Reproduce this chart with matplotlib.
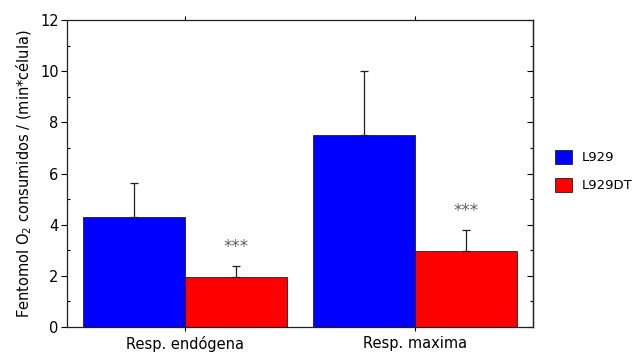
import numpy as np
import matplotlib.pyplot as plt
from matplotlib.ticker import MultipleLocator

# Oxygen consumption per cell line
categories = ["Resp. endógena", "Resp. maxima"]
series = ["L929", "L929DT"]
l929_mean = [4.3, 7.5]
l929_err = [1.32, 2.5]
l929dt_mean = [1.95, 2.97]
l929dt_err = [0.43, 0.82]
significance = ["***", "***"]

colors = ["#0000ff", "#ff0000"]

fig = plt.figure(figsize=(6.44, 3.56), dpi=100)
ax = fig.add_axes([67 / 644, 29 / 356, 466 / 644, 307 / 356])

x = np.arange(len(categories))
w = 0.443

ax.bar(x - w / 2, l929_mean, w, color=colors[0], edgecolor="#202020",
       linewidth=0.6, label=series[0])
ax.bar(x + w / 2, l929dt_mean, w, color=colors[1], edgecolor="#202020",
       linewidth=0.6, label=series[1])

# upper half error bars only
ax.errorbar(x - w / 2, l929_mean, yerr=[np.zeros(2), l929_err], fmt="none",
            ecolor="#202020", elinewidth=0.9, capsize=3, capthick=0.9)
ax.errorbar(x + w / 2, l929dt_mean, yerr=[np.zeros(2), l929dt_err], fmt="none",
            ecolor="#202020", elinewidth=0.9, capsize=3, capthick=0.9)

for xi, m, e, s in zip(x, l929dt_mean, l929dt_err, significance):
    ax.text(xi + w / 2, m + e + 0.75, s, ha="center", va="center",
            fontsize=12, color="#606060")

ax.set_xlim(-0.513, 1.513)
ax.set_ylim(0, 12)
ax.set_xticks(x)
ax.set_xticklabels(categories, fontsize=10.5)
ax.yaxis.set_major_locator(MultipleLocator(2))
ax.yaxis.set_minor_locator(MultipleLocator(1))
ax.tick_params(axis="y", which="major", direction="out", length=4, width=0.8,
               labelsize=10.5, pad=2)
ax.tick_params(axis="y", which="minor", direction="in", length=2, width=0.8)
ax.tick_params(axis="x", direction="out", top=True, length=3, width=0.8)
for sp in ax.spines.values():
    sp.set_linewidth(0.9)
    sp.set_color("#202020")

# right side: inward ticks, no labels
right = ax.secondary_yaxis("right")
right.yaxis.set_major_locator(MultipleLocator(2))
right.yaxis.set_minor_locator(MultipleLocator(1))
right.tick_params(which="major", direction="in", length=4, width=0.8,
                  labelright=False)
right.tick_params(which="minor", direction="in", length=2, width=0.8)
right.spines["right"].set_linewidth(0.9)
right.spines["right"].set_color("#202020")

ax.set_ylabel("Fentomol O$_2$ consumidos / (min*célula)", fontsize=10.5,
              labelpad=4)

ax.legend(loc="center left", bbox_to_anchor=(1.03, 0.508), frameon=False,
          fontsize=9.5, handlelength=1.3, handleheight=1.3, handletextpad=0.7,
          labelspacing=1.0, borderaxespad=0.2)

fig.savefig("out.png", dpi=100)
